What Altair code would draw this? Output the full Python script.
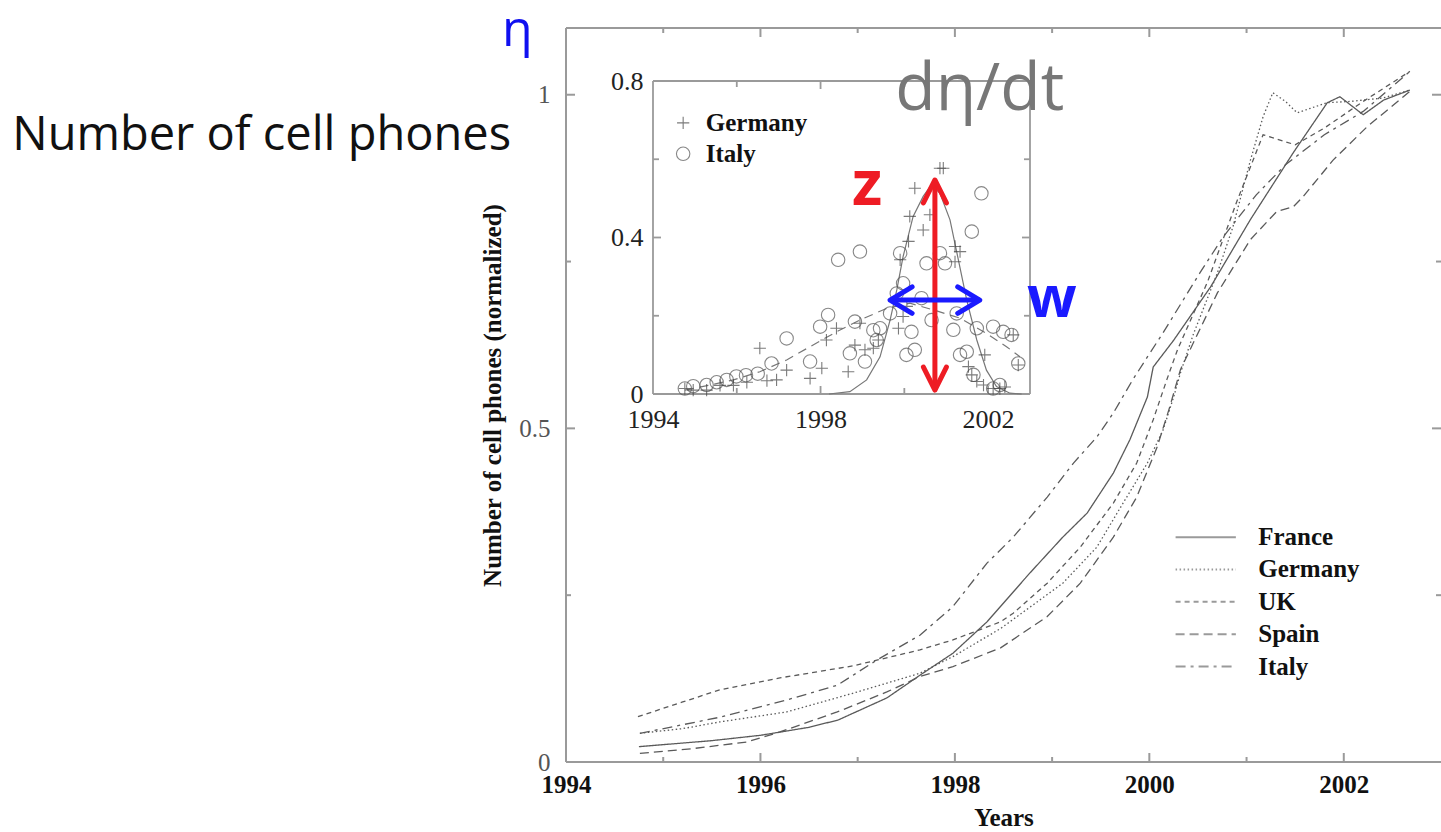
import altair as alt
import pandas as pd

# ---------------- main panel: cell phones per country (normalized) ----------------
countries = ["France", "Germany", "UK", "Spain", "Italy"]

france_t = [1994.75, 1995.5, 1996.0, 1996.5, 1996.8, 1997.3, 1997.64, 1997.98, 1998.33,
            1998.77, 1999.11, 1999.36, 1999.63, 1999.8, 1999.98, 2000.04, 2000.25, 2000.63,
            2001.04, 2001.48, 2001.83, 2001.96, 2002.2, 2002.41, 2002.68]
france_v = [0.023, 0.032, 0.040, 0.052, 0.063, 0.096, 0.13, 0.163, 0.21,
            0.283, 0.337, 0.373, 0.433, 0.483, 0.547, 0.592, 0.632, 0.712,
            0.813, 0.913, 0.988, 0.997, 0.97, 0.992, 1.007]

germany_t = [1994.76, 1995.2, 1995.58, 1996.27, 1996.95, 1997.64, 1997.98, 1998.47, 1998.8,
             1999.11, 1999.46, 1999.73, 1999.98, 2000.14, 2000.25, 2000.32, 2000.45, 2000.7,
             2000.86, 2001.04, 2001.17, 2001.27, 2001.4, 2001.52, 2001.83, 2002.07, 2002.4,
             2002.68]
germany_v = [0.043, 0.05, 0.06, 0.075, 0.103, 0.133, 0.158, 0.2, 0.235,
             0.268, 0.322, 0.388, 0.448, 0.497, 0.547, 0.583, 0.64, 0.733,
             0.802, 0.902, 0.967, 1.003, 0.99, 0.973, 0.988, 0.99, 0.995,
             1.007]

uk_t = [1994.74, 1995.2, 1995.58, 1996.2, 1996.95, 1997.64, 1997.98, 1998.47, 1998.6,
        1998.95, 1999.29, 1999.63, 1999.87, 2000.04, 2000.18, 2000.29, 2000.6, 2000.9,
        2001.17, 2001.5, 2001.8, 2002.2, 2002.68]
uk_v = [0.068, 0.09, 0.108, 0.126, 0.144, 0.168, 0.183, 0.21, 0.223,
        0.268, 0.322, 0.388, 0.448, 0.513, 0.573, 0.618, 0.72, 0.84,
        0.94, 0.925, 0.95, 0.99, 1.035]

spain_t = [1994.76, 1995.3, 1995.86, 1996.2, 1996.79, 1997.3, 1997.64, 1997.98, 1998.47,
           1998.95, 1999.29, 1999.63, 1999.87, 2000.08, 2000.21, 2000.32, 2000.7, 2001.04,
           2001.31, 2001.48, 2001.58, 2001.89, 2002.24, 2002.68]
spain_v = [0.013, 0.02, 0.03, 0.045, 0.075, 0.105, 0.128, 0.143, 0.171,
           0.218, 0.268, 0.337, 0.397, 0.472, 0.532, 0.588, 0.703, 0.783,
           0.825, 0.832, 0.847, 0.902, 0.952, 1.005]

italy_t = [1994.76, 1995.58, 1996.27, 1996.79, 1997.2, 1997.64, 1997.98, 1998.33, 1998.6,
           1998.95, 1999.22, 1999.46, 1999.63, 1999.83, 1999.98, 2000.14, 2000.52, 2000.76,
           2001.1, 2001.4, 2001.8, 2002.2, 2002.68]
italy_v = [0.043, 0.067, 0.093, 0.115, 0.153, 0.19, 0.233, 0.298, 0.337,
           0.397, 0.448, 0.487, 0.523, 0.573, 0.607, 0.643, 0.733, 0.787,
           0.85, 0.895, 0.94, 0.975, 1.035]

# ---------------- inset: dη/dt for Germany and Italy ----------------
de_t = [1994.76, 1994.96, 1995.28, 1995.6, 1995.92, 1996.24, 1996.55, 1996.72, 1996.95,
        1997.19, 1997.75, 1998.03, 1998.14, 1998.38, 1998.66, 1998.82, 1998.94, 1999.06,
        1999.26, 1999.38, 1999.86, 1999.97, 2000.06, 1999.9, 2000.1, 2000.13, 2000.25,
        2000.45, 2000.61, 2000.85, 2000.93, 2001.21, 2001.33, 2001.21, 2001.53, 2001.61,
        2001.73, 2001.92, 2001.89, 2002.12, 2002.28, 2002.4, 2002.6, 2002.72]
de_v = [0.014, 0.01, 0.01, 0.022, 0.022, 0.03, 0.117, 0.034, 0.036,
        0.061, 0.04, 0.066, 0.138, 0.168, 0.057, 0.125, 0.181, 0.113,
        0.117, 0.138, 0.168, 0.198, 0.224, 0.343, 0.39, 0.454, 0.526,
        0.419, 0.458, 0.577, 0.577, 0.377, 0.364, 0.338, 0.07, 0.049,
        0.032, 0.1, 0.023, 0.014, 0.014, 0.018, 0.151, 0.074]

it_t = [1994.76, 1994.96, 1995.28, 1995.52, 1995.76, 1995.99, 1996.22, 1996.5, 1996.83,
        1997.19, 1997.75, 1997.99, 1998.18, 1998.42, 1998.7, 1998.82, 1998.94, 1999.06,
        1999.26, 1999.42, 1999.34, 1999.66, 1999.82, 1999.97, 1999.9, 2000.05, 2000.25,
        2000.17, 2000.41, 2000.53, 2000.65, 2000.85, 2000.97, 2001.17, 2001.25, 2001.33,
        2001.49, 2001.61, 2001.65, 2001.73, 2001.84, 2002.12, 2002.12, 2002.28, 2002.36,
        2002.56, 2002.72]
it_v = [0.014, 0.02, 0.023, 0.03, 0.036, 0.045, 0.048, 0.052, 0.078,
        0.142, 0.083, 0.172, 0.202, 0.343, 0.104, 0.185, 0.364, 0.083,
        0.163, 0.168, 0.138, 0.206, 0.257, 0.283, 0.36, 0.1, 0.113,
        0.159, 0.245, 0.334, 0.189, 0.36, 0.334, 0.164, 0.206, 0.1,
        0.108, 0.415, 0.049, 0.168, 0.513, 0.172, 0.014, 0.023, 0.159,
        0.151, 0.078]

# narrow fitted peak (solid) and broad fitted peak (dashed)
narrow_t = [1998.2, 1998.7, 1999.1, 1999.42, 1999.66, 1999.82, 1999.97, 2000.21, 2000.45,
            2000.65, 2000.85, 2001.09, 2001.29, 2001.49, 2001.73, 2001.96, 2002.2, 2002.52,
            2002.8]
narrow_v = [0.0, 0.006, 0.036, 0.095, 0.189, 0.266, 0.351, 0.454, 0.505,
            0.535, 0.513, 0.445, 0.343, 0.24, 0.138, 0.061, 0.019, 0.002,
            0.0]
broad_t = [1994.76, 1995.36, 1995.92, 1996.55, 1997.19, 1997.75, 1998.38, 1998.94, 1999.58,
           2000.13, 2000.69, 2001.33, 2001.96, 2002.44, 2002.76]
broad_v = [0.01, 0.023, 0.036, 0.057, 0.087, 0.121, 0.159, 0.189, 0.219,
           0.232, 0.215, 0.194, 0.155, 0.121, 0.095]

# height (z) and width (w) markers of the narrow peak
z_t, z_lo, z_hi = 2000.73, 0.01, 0.547
w_v, w_lo, w_hi = 0.24, 1999.66, 2001.8

# ---------------- layout ----------------
W, H = 875, 734
PAD = {"left": 566, "top": 28, "right": 0, "bottom": 70}
INSET_X = [87, 464]
INSET_Y = [366, 53]
PX_X = W / 9.0
PX_Y = H / 1.1
IPX_X = (INSET_X[1] - INSET_X[0]) / 9.0
IPX_Y = (INSET_Y[0] - INSET_Y[1]) / 0.8

SERIF = "Liberation Serif"
HAND = "Open Sans"
FRAME = "#9a9a9a"
INK = "#5a5a5a"

series = {
    "France": (france_t, france_v),
    "Germany": (germany_t, germany_v),
    "UK": (uk_t, uk_v),
    "Spain": (spain_t, spain_v),
    "Italy": (italy_t, italy_v),
}
main_df = pd.DataFrame(
    [{"country": c, "t": t, "v": v} for c, (ts, vs) in series.items() for t, v in zip(ts, vs)]
)

dash_scale = alt.Scale(
    domain=countries,
    range=[[1, 0], [1.5, 2.5], [5, 4], [9, 5], [10, 5, 3, 5]],
)

xs = alt.Scale(domain=[1994, 2003], nice=False, zero=False)
ys = alt.Scale(domain=[0, 1.1], nice=False, zero=False)
ixs = alt.Scale(domain=[1994, 2003], range=INSET_X, nice=False, zero=False)
iys = alt.Scale(domain=[0, 0.8], range=INSET_Y, nice=False, zero=False)

main_x_axis = alt.Axis(
    values=[1994, 1996, 1998, 2000, 2002], format="d", title="Years",
    grid=False, domain=False, ticks=False, tickSize=0, labelFlush=False,
    labelFont=SERIF, labelFontWeight="bold", labelFontSize=25, labelColor="#111",
    labelPadding=10, titleFont=SERIF, titleFontWeight="bold", titleFontSize=25,
    titleColor="#111", titlePadding=8,
)
main_y_axis = alt.Axis(
    values=[0, 0.5, 1], format="~g", title="Number of cell phones (normalized)",
    grid=False, domain=False, ticks=False, tickSize=0, labelFlush=False,
    labelFont=SERIF, labelFontSize=25, labelColor="#555", labelPadding=16,
    titleFont=SERIF, titleFontWeight="bold", titleFontSize=25, titleColor="#111",
    titlePadding=13,
)
inset_x_axis = alt.Axis(
    orient="bottom", offset=-(H - INSET_Y[0]), values=[1994, 1998, 2002], format="d",
    title="", grid=False, domain=False, ticks=False, tickSize=0, labelFlush=False,
    labelFont=SERIF, labelFontSize=26, labelColor="#222", labelPadding=12,
)
inset_y_axis = alt.Axis(
    orient="left", offset=-INSET_X[0], values=[0, 0.4, 0.8], format="~g",
    title="", grid=False, domain=False, ticks=False, tickSize=0, labelFlush=False,
    labelFont=SERIF, labelFontSize=26, labelColor="#222", labelPadding=10,
)


def mx(f="t"):
    return alt.X(f"{f}:Q", scale=xs, axis=main_x_axis)


def my(f="v"):
    return alt.Y(f"{f}:Q", scale=ys, axis=main_y_axis)


def ix(f="t"):
    return alt.X(f"{f}:Q", scale=ixs, axis=inset_x_axis)


def iy(f="v"):
    return alt.Y(f"{f}:Q", scale=iys, axis=inset_y_axis)


# ---- main frame and inward ticks ----
frame_df = pd.DataFrame([
    {"x": 1994, "x2": 1994, "y": 0, "y2": 1.1},
    {"x": 1994, "x2": 2003, "y": 1.1, "y2": 1.1},
    {"x": 1994, "x2": 2003, "y": 0, "y2": 0},
])
tick_rows = []
for yr in range(1995, 2003):
    L = 9 if yr % 2 == 0 else 5
    tick_rows.append({"x": yr, "x2": yr, "y": 0, "y2": L / PX_Y})
    tick_rows.append({"x": yr, "x2": yr, "y": 1.1, "y2": 1.1 - L / PX_Y})
for val in [0.25, 0.5, 0.75, 1.0]:
    L = 9 if val in (0.5, 1.0) else 5
    tick_rows.append({"x": 1994, "x2": 1994 + L / PX_X, "y": val, "y2": val})
    tick_rows.append({"x": 2003, "x2": 2003 - L / PX_X, "y": val, "y2": val})
ticks_df = pd.DataFrame(tick_rows)

main_frame = alt.Chart(pd.concat([frame_df, ticks_df])).mark_rule(
    color=FRAME, strokeWidth=2
).encode(x=mx("x"), x2="x2:Q", y=my("y"), y2="y2:Q")

main_lines = alt.Chart(main_df).mark_line(color=INK, strokeWidth=1.3).encode(
    x=mx(), y=my(),
    strokeDash=alt.StrokeDash("country:N", scale=dash_scale, legend=None),
    detail="country:N",
)

# ---- main legend (line samples + names) ----
leg_top, leg_step = 0.337, 0.0485
leg_df = pd.DataFrame([
    {"country": c, "t": 2000.27, "t2": 2000.89, "tl": 2001.12, "v": leg_top - i * leg_step}
    for i, c in enumerate(countries)
])
leg_lines = alt.Chart(leg_df).mark_rule(color="#9a9a9a", strokeWidth=2).encode(
    x=mx(), x2="t2:Q", y=my(),
    strokeDash=alt.StrokeDash("country:N", scale=dash_scale, legend=None),
)
leg_text = alt.Chart(leg_df).mark_text(
    align="left", baseline="middle", font=SERIF, fontWeight="bold", fontSize=25, color="#111"
).encode(x=mx("tl"), y=my(), text="country:N")

# ---- handwritten labels on the left ----
eta_df = pd.DataFrame([{"t": 1993.5, "v": 1.073, "label": "η"}])
eta_text = alt.Chart(eta_df).mark_text(
    align="center", baseline="alphabetic", font=HAND, fontSize=50, color="#1010f0"
).encode(x=mx(), y=my(), text="label:N")
name_df = pd.DataFrame([{"t": 1990.87, "v": 0.917, "label": "Number of cell phones"}])
name_text = alt.Chart(name_df).mark_text(
    align="center", baseline="alphabetic", font=HAND, fontSize=47, color="#111"
).encode(x=mx(), y=my(), text="label:N")

main = alt.layer(main_frame, main_lines, leg_lines, leg_text, eta_text, name_text)

# ---- inset frame and ticks ----
iframe_rows = [
    {"x": 1994, "x2": 2003, "y": 0, "y2": 0},
    {"x": 1994, "x2": 2003, "y": 0.8, "y2": 0.8},
    {"x": 1994, "x2": 1994, "y": 0, "y2": 0.8},
    {"x": 2003, "x2": 2003, "y": 0, "y2": 0.8},
]
for yr in [1996, 1998, 2000, 2002]:
    L = 8 if yr in (1998, 2002) else 6
    iframe_rows.append({"x": yr, "x2": yr, "y": 0, "y2": L / IPX_Y})
    iframe_rows.append({"x": yr, "x2": yr, "y": 0.8, "y2": 0.8 - L / IPX_Y})
for val in [0.2, 0.4, 0.6]:
    L = 8 if val == 0.4 else 6
    iframe_rows.append({"x": 1994, "x2": 1994 + L / IPX_X, "y": val, "y2": val})
    iframe_rows.append({"x": 2003, "x2": 2003 - L / IPX_X, "y": val, "y2": val})
inset_frame = alt.Chart(pd.DataFrame(iframe_rows)).mark_rule(
    color=FRAME, strokeWidth=1.8
).encode(x=ix("x"), x2="x2:Q", y=iy("y"), y2="y2:Q")

broad_fit = alt.Chart(pd.DataFrame({"t": broad_t, "v": broad_v})).mark_line(
    color="#777", strokeWidth=1.2, strokeDash=[9, 6]
).encode(x=ix(), y=iy())
narrow_fit = alt.Chart(pd.DataFrame({"t": narrow_t, "v": narrow_v})).mark_line(
    color="#777", strokeWidth=1.2
).encode(x=ix(), y=iy())

PLUS = "M-1,0L1,0M0,-1L0,1"
de_pts = alt.Chart(pd.DataFrame({"t": de_t, "v": de_v})).mark_point(
    shape=PLUS, size=150, filled=False, color="#444", strokeWidth=1.1
).encode(x=ix(), y=iy())
it_pts = alt.Chart(pd.DataFrame({"t": it_t, "v": it_v})).mark_point(
    shape="circle", size=180, filled=False, color="#555", strokeWidth=1.1
).encode(x=ix(), y=iy())

# inset legend
ileg_df = pd.DataFrame([
    {"t": 1994.72, "tl": 1995.26, "v": 0.693, "label": "Germany"},
    {"t": 1994.72, "tl": 1995.26, "v": 0.614, "label": "Italy"},
])
ileg_plus = alt.Chart(ileg_df.iloc[[0]]).mark_point(
    shape=PLUS, size=150, filled=False, color="#444", strokeWidth=1.1
).encode(x=ix(), y=iy())
ileg_circ = alt.Chart(ileg_df.iloc[[1]]).mark_point(
    shape="circle", size=180, filled=False, color="#555", strokeWidth=1.1
).encode(x=ix(), y=iy())
ileg_text = alt.Chart(ileg_df).mark_text(
    align="left", baseline="middle", font=SERIF, fontWeight="bold", fontSize=25, color="#111"
).encode(x=ix("tl"), y=iy(), text="label:N")

# z (peak height) and w (peak width) arrows
z_df = pd.DataFrame([{"t": z_t, "v": z_lo, "v2": z_hi}])
z_rule = alt.Chart(z_df).mark_rule(color="#ee1c24", strokeWidth=5).encode(
    x=ix(), y=iy(), y2="v2:Q"
)
z_top = alt.Chart(pd.DataFrame([{"t": z_t, "v": z_hi}])).mark_point(
    shape="M-0.5,1L0,0L0.5,1", size=2116, filled=False, color="#ee1c24",
    strokeWidth=5, strokeCap="round", strokeJoin="round", opacity=1
).encode(x=ix(), y=iy())
z_bot = alt.Chart(pd.DataFrame([{"t": z_t, "v": z_lo}])).mark_point(
    shape="M-0.5,-1L0,0L0.5,-1", size=2116, filled=False, color="#ee1c24",
    strokeWidth=5, strokeCap="round", strokeJoin="round", opacity=1
).encode(x=ix(), y=iy())

w_df = pd.DataFrame([{"t": w_lo, "t2": w_hi, "v": w_v}])
w_rule = alt.Chart(w_df).mark_rule(color="#1a1aff", strokeWidth=5).encode(
    x=ix(), x2="t2:Q", y=iy()
)
w_left = alt.Chart(pd.DataFrame([{"t": w_lo, "v": w_v}])).mark_point(
    shape="M1,-0.6L0,0L1,0.6", size=1936, filled=False, color="#1a1aff",
    strokeWidth=5, strokeCap="round", strokeJoin="round", opacity=1
).encode(x=ix(), y=iy())
w_right = alt.Chart(pd.DataFrame([{"t": w_hi, "v": w_v}])).mark_point(
    shape="M-1,-0.6L0,0L-1,0.6", size=1936, filled=False, color="#1a1aff",
    strokeWidth=5, strokeCap="round", strokeJoin="round", opacity=1
).encode(x=ix(), y=iy())

deriv_text = alt.Chart(pd.DataFrame([{"t": 2001.8, "v": 0.726, "label": "dη/dt"}])).mark_text(
    align="center", baseline="alphabetic", font=HAND, fontSize=66, color="#777"
).encode(x=ix(), y=iy(), text="label:N")
z_text = alt.Chart(pd.DataFrame([{"t": 1999.11, "v": 0.483, "label": "z"}])).mark_text(
    align="center", baseline="alphabetic", font=HAND, fontSize=62, fontWeight="bold",
    color="#ee1c24"
).encode(x=ix(), y=iy(), text="label:N")
w_text = alt.Chart(pd.DataFrame([{"t": 2003.52, "v": 0.197, "label": "w"}])).mark_text(
    align="center", baseline="alphabetic", font=HAND, fontSize=58, fontWeight="bold",
    color="#1a1aff"
).encode(x=ix(), y=iy(), text="label:N")

inset = alt.layer(
    inset_frame, broad_fit, narrow_fit, it_pts, de_pts,
    ileg_plus, ileg_circ, ileg_text,
    z_rule, z_top, z_bot, w_rule, w_left, w_right,
    deriv_text, z_text, w_text,
)

chart = (
    alt.layer(main, inset)
    .resolve_scale(x="independent", y="independent")
    .properties(
        width=W, height=H,
        autosize=alt.AutoSizeParams(type="none"),
        padding=PAD,
        background="white",
    )
    .configure_view(stroke="transparent")
)

chart.save("out.html", embed_options={"renderer": "svg", "actions": False})
